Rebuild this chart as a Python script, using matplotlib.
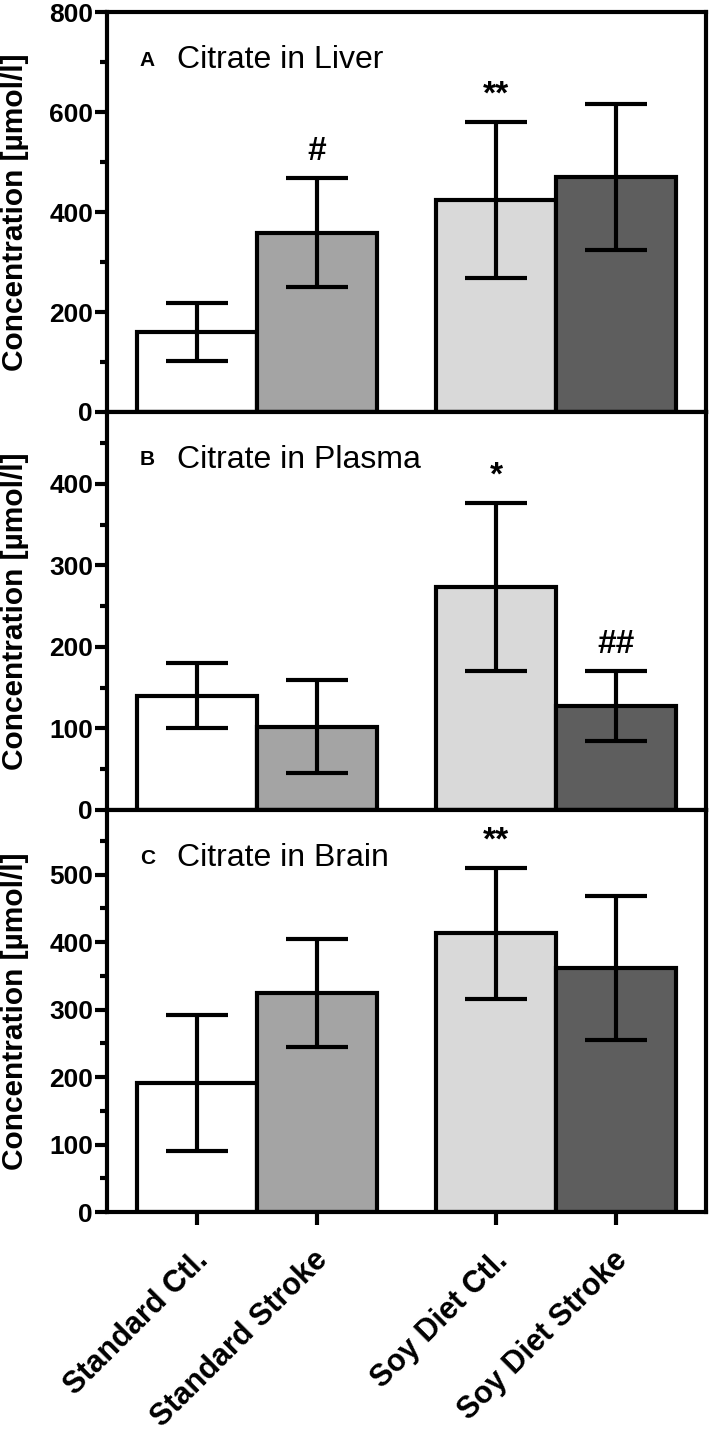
import matplotlib.pyplot as plt
import matplotlib.transforms as mtransforms
from matplotlib.ticker import MultipleLocator

plt.rcParams['font.family'] = ['Liberation Sans', 'DejaVu Sans']

groups = ['Standard Ctl.', 'Standard Stroke', 'Soy Diet Ctl.', 'Soy Diet Stroke']
positions = [0, 1, 2.5, 3.5]
colors = ['#ffffff', '#a4a4a4', '#d9d9d9', '#5e5e5e']

titles = ['Citrate in Liver', 'Citrate in Plasma', 'Citrate in Brain']
letters = ['A', 'B', 'C']

liver_mean = [160, 358, 424, 470]
liver_err = [58, 109, 156, 146]
plasma_mean = [140, 102, 274, 127]
plasma_err = [40, 57, 103, 43]
brain_mean = [191, 325, 413, 362]
brain_err = [101, 80, 97, 107]

liver_marks = ['', '#', '**', '']
plasma_marks = ['', '', '*', '##']
brain_marks = ['', '', '**', '']

ylims = [800, 488, 596]
major = [200, 100, 100]

means = [liver_mean, plasma_mean, brain_mean]
errs = [liver_err, plasma_err, brain_err]
marks = [liver_marks, plasma_marks, brain_marks]

fig = plt.figure(figsize=(7.09, 14.33), dpi=100)
left, right = 107 / 709, 706 / 709
edges = [12, 412, 810, 1212]

lw = 3.0
for i in range(3):
    top = 1 - edges[i] / 1433
    bot = 1 - edges[i + 1] / 1433
    ax = fig.add_axes([left, bot, right - left, top - bot])
    ax.bar(positions, means[i], width=1.0, color=colors, edgecolor='black',
           linewidth=lw, zorder=2)
    ax.errorbar(positions, means[i], yerr=errs[i], fmt='none', ecolor='black',
                elinewidth=lw, capsize=22, capthick=lw, zorder=3)
    for x, m, e, s in zip(positions, means[i], errs[i], marks[i]):
        if s:
            ax.annotate(s, (x, m + e), xytext=(0, 8), textcoords='offset points',
                        ha='center', va='bottom', fontsize=24, fontweight='bold')
    ax.set_xlim(-0.75, 4.25)
    ax.set_ylim(0, ylims[i])
    ax.yaxis.set_major_locator(MultipleLocator(major[i]))
    ax.yaxis.set_minor_locator(MultipleLocator(major[i] / 2))
    for sp in ax.spines.values():
        sp.set_linewidth(lw)
    ax.tick_params(axis='y', which='major', length=9, width=lw, labelsize=19, pad=1)
    ax.tick_params(axis='y', which='minor', length=5, width=lw)
    for lab in ax.get_yticklabels():
        lab.set_fontweight('bold')
    yc = 1 - (edges[i] + edges[i + 1]) / 2 / 1433
    fig.text(15 / 709, yc, 'Concentration [µmol/l]', rotation=90, ha='center',
             va='center', fontsize=21.5, fontweight='bold')
    ax.text(0.055, 0.88, letters[i], transform=ax.transAxes, fontsize=15,
            fontweight='bold', va='center', ha='left')
    ax.text(0.117, 0.88, titles[i], transform=ax.transAxes, fontsize=23,
            va='center', ha='left')
    if i < 2:
        ax.set_xticks([])
    else:
        ax.set_xticks(positions)
        ax.set_xticklabels(groups, rotation=45, ha='right', rotation_mode='anchor',
                           fontsize=22, fontweight='bold')
        ax.tick_params(axis='x', length=9, width=lw, pad=15)
        shift = mtransforms.ScaledTranslation(-4 / 100, 0, fig.dpi_scale_trans)
        for lab in ax.get_xticklabels():
            lab.set_transform(lab.get_transform() + shift)

fig.savefig('out.png', dpi=100)
